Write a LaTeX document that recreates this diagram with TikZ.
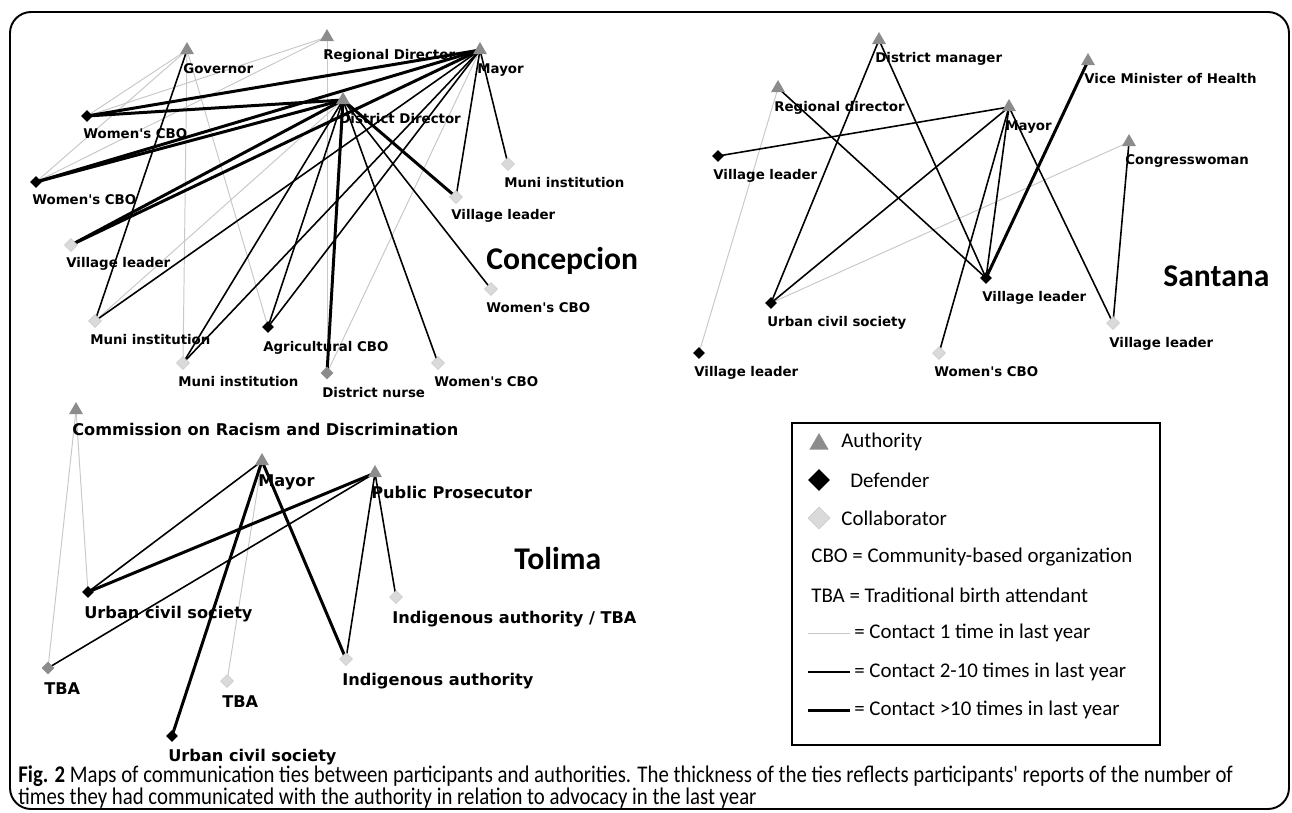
\documentclass[tikz,border=0pt]{standalone}
\usepackage{fontspec}
\setmainfont{Carlito}
\newfontfamily\nodefont{DejaVu Sans}
\newfontfamily\capfont[FakeStretch=0.87]{Carlito}
\usetikzlibrary{shapes.geometric, backgrounds}
\definecolor{authgray}{RGB}{140,140,140}
\definecolor{collgray}{RGB}{218,218,218}
\definecolor{tiegray}{RGB}{200,200,200}

\begin{document}
\begin{tikzpicture}[x=0.02cm, y=-0.02cm,
    auth/.style={regular polygon, regular polygon sides=3, fill=authgray, inner sep=0pt, minimum size=0.32cm},
    dfnd/.style={diamond, fill=black, inner sep=0pt, minimum size=0.24cm},
    coll/.style={diamond, fill=collgray, draw=tiegray, line width=0.3pt, inner sep=0pt, minimum size=0.26cm},
    midg/.style={diamond, fill=authgray, inner sep=0pt, minimum size=0.26cm},
    lbl/.style={anchor=north west, inner sep=0pt, font=\nodefont\bfseries\fontsize{7.6}{9}\selectfont},
    biglbl/.style={lbl, font=\nodefont\bfseries\fontsize{9.2}{11}\selectfont},
    region/.style={anchor=north west, inner sep=0pt, font=\bfseries\fontsize{18}{20}\selectfont},
    key/.style={anchor=west, inner sep=0pt, font=\fontsize{11.9}{14}\selectfont},
    one/.style={draw=tiegray, line width=0.55pt},
    few/.style={draw=black, line width=0.9pt},
    many/.style={draw=black, line width=1.7pt}]
    \useasboundingbox (0,0) rectangle (1292,812);
    \draw[line width=1.1pt, rounded corners=12pt] (10,12) rectangle (1289,809);

    % Concepcion
    \node[auth] (cgov) at (187,50) {};
    \node[lbl] (cgov-t) at (183,63) {Governor};
    \node[auth] (crd) at (327,37) {};
    \node[lbl] (crd-t) at (323,49) {Regional Director};
    \node[auth] (cmay) at (480,50) {};
    \node[lbl] (cmay-t) at (477,63) {Mayor};
    \node[auth] (cdd) at (343,100) {};
    \node[lbl] (cdd-t) at (339,113) {District Director};
    \node[dfnd] (cwc1) at (87,116) {};
    \node[lbl] (cwc1-t) at (83,128) {Women's CBO};
    \node[dfnd] (cwc2) at (36,182) {};
    \node[lbl] (cwc2-t) at (32,194) {Women's CBO};
    \node[coll] (cmu1) at (508,164) {};
    \node[lbl] (cmu1-t) at (504,177) {Muni institution};
    \node[coll] (cvl1) at (456,197) {};
    \node[lbl] (cvl1-t) at (451,209) {Village leader};
    \node[coll] (cvl2) at (71,245) {};
    \node[lbl] (cvl2-t) at (66,257) {Village leader};
    \node[coll] (cmu2) at (95,321) {};
    \node[lbl] (cmu2-t) at (90,334) {Muni institution};
    \node[coll] (cmu3) at (183,363) {};
    \node[lbl] (cmu3-t) at (178,376) {Muni institution};
    \node[dfnd] (cagr) at (268,327) {};
    \node[lbl] (cagr-t) at (263,341) {Agricultural CBO};
    \node[midg] (cnur) at (327,373) {};
    \node[lbl] (cnur-t) at (322,387) {District nurse};
    \node[coll] (cwc3) at (491,289) {};
    \node[lbl] (cwc3-t) at (486,302) {Women's CBO};
    \node[coll] (cwc4) at (438,363) {};
    \node[lbl] (cwc4-t) at (434,376) {Women's CBO};
    \node[region] (conc) at (486,247) {Concepcion};

    % Santana
    \node[auth] (sdm) at (879,40) {};
    \node[lbl] (sdm-t) at (875,52) {District manager};
    \node[auth] (srd) at (778,88) {};
    \node[lbl] (srd-t) at (774,101) {Regional director};
    \node[dfnd] (svl1) at (718,156) {};
    \node[lbl] (svl1-t) at (713,169) {Village leader};
    \node[auth] (smay) at (1009,107) {};
    \node[lbl] (smay-t) at (1005,120) {Mayor};
    \node[auth] (svm) at (1088,61) {};
    \node[lbl] (svm-t) at (1084,73) {Vice Minister of Health};
    \node[auth] (scw) at (1129,142) {};
    \node[lbl] (scw-t) at (1125,154) {Congresswoman};
    \node[dfnd] (svl2) at (986,278) {};
    \node[lbl] (svl2-t) at (982,291) {Village leader};
    \node[coll] (svl3) at (1113,323) {};
    \node[lbl] (svl3-t) at (1109,337) {Village leader};
    \node[dfnd] (sucs) at (771,303) {};
    \node[lbl] (sucs-t) at (767,316) {Urban civil society};
    \node[dfnd] (svl4) at (699,353) {};
    \node[lbl] (svl4-t) at (694,366) {Village leader};
    \node[coll] (swc) at (939,353) {};
    \node[lbl] (swc-t) at (934,366) {Women's CBO};
    \node[region] (sant) at (1163,265) {Santana};

    % Tolima
    \node[auth] (tcom) at (76,410) {};
    \node[biglbl] (tcom-t) at (72,423) {Commission on Racism and Discrimination};
    \node[auth] (tmay) at (262,461) {};
    \node[biglbl] (tmay-t) at (258,474) {Mayor};
    \node[auth] (tpp) at (375,473) {};
    \node[biglbl] (tpp-t) at (371,486) {Public Prosecutor};
    \node[dfnd] (tucs) at (88,592) {};
    \node[biglbl] (tucs-t) at (84,606) {Urban civil society};
    \node[midg] (ttba) at (48,668) {};
    \node[biglbl] (ttba-t) at (44,682) {TBA};
    \node[coll] (ttb2) at (227,681) {};
    \node[biglbl] (ttb2-t) at (222,695) {TBA};
    \node[dfnd] (tuc2) at (172,736) {};
    \node[biglbl] (tuc2-t) at (168,749) {Urban civil society};
    \node[coll] (tind) at (346,659) {};
    \node[biglbl] (tind-t) at (342,673) {Indigenous authority};
    \node[coll] (tit) at (396,597) {};
    \node[biglbl] (tit-t) at (392,611) {Indigenous authority / TBA};
    \node[region] (toli) at (514,547) {Tolima};

    \begin{scope}[on background layer]
        \draw[one] (cgov.center)--(cwc1.center);
        \draw[one] (cgov.center)--(cwc2.center);
        \draw[one] (cgov.center)--(cagr.center);
        \draw[one] (cgov.center)--(cmu3.center);
        \draw[one] (crd.center)--(cwc1.center);
        \draw[one] (crd.center)--(cwc2.center);
        \draw[one] (crd.center)--(cnur.center);
        \draw[one] (cmay.center)--(cnur.center);
        \draw[one] (cdd.center)--(cmu2.center);
        \draw[few] (cgov.center)--(cmu2.center);
        \draw[few] (cmay.center)--(cmu2.center);
        \draw[few] (cmay.center)--(cmu3.center);
        \draw[few] (cmay.center)--(cagr.center);
        \draw[few] (cmay.center)--(cvl1.center);
        \draw[few] (cmay.center)--(cmu1.center);
        \draw[few] (cdd.center)--(cmu3.center);
        \draw[few] (cdd.center)--(cagr.center);
        \draw[few] (cdd.center)--(cwc4.center);
        \draw[few] (cdd.center)--(cwc3.center);
        \draw[many] (cmay.center)--(cwc1.center);
        \draw[many] (cdd.center)--(cwc1.center);
        \draw[many] (cmay.center)--(cwc2.center);
        \draw[many] (cdd.center)--(cwc2.center);
        \draw[many] (cmay.center)--(cvl2.center);
        \draw[many] (cdd.center)--(cvl2.center);
        \draw[many] (cdd.center)--(cnur.center);
        \draw[many] (cdd.center)--(cvl1.center);

        \draw[one] (srd.center)--(svl4.center);
        \draw[one] (scw.center)--(sucs.center);
        \draw[few] (srd.center)--(svl2.center);
        \draw[few] (sdm.center)--(sucs.center);
        \draw[few] (sdm.center)--(svl2.center);
        \draw[few] (svl1.center)--(smay.center);
        \draw[few] (smay.center)--(sucs.center);
        \draw[few] (smay.center)--(svl2.center);
        \draw[few] (smay.center)--(swc.center);
        \draw[few] (smay.center)--(svl3.center);
        \draw[few] (scw.center)--(svl3.center);
        \draw[many] (svm.center)--(svl2.center);

        \draw[one] (tcom.center)--(tucs.center);
        \draw[one] (tcom.center)--(ttba.center);
        \draw[one] (tmay.center)--(ttb2.center);
        \draw[few] (tmay.center)--(tucs.center);
        \draw[few] (tpp.center)--(ttba.center);
        \draw[few] (tpp.center)--(tind.center);
        \draw[few] (tpp.center)--(tit.center);
        \draw[many] (tpp.center)--(tucs.center);
        \draw[many] (tmay.center)--(tuc2.center);
        \draw[many] (tmay.center)--(tind.center);
    \end{scope}

    % legend
    \draw[line width=0.6pt] (792,423) rectangle (1160,745);
    \node[auth, minimum size=0.44cm] (kauth) at (819,444) {};
    \node[key] (kauth-t) at (841,442) {Authority};
    \node[dfnd, minimum size=0.44cm] (kdef) at (819,480) {};
    \node[key] (kdef-t) at (850,480) {Defender};
    \node[coll, minimum size=0.44cm] (kcol) at (819,518) {};
    \node[key] (kcol-t) at (841,518) {Collaborator};
    \node[key] (kcbo) at (811,557) {CBO = Community-based organization};
    \node[key] (ktba) at (811,595) {TBA = Traditional birth attendant};
    \coordinate (k1) at (808,633);
    \node[key] (k1-t) at (854,633) {= Contact 1 time in last year};
    \coordinate (k2) at (808,672);
    \node[key] (k2-t) at (854,672) {= Contact 2-10 times in last year};
    \coordinate (k3) at (808,710);
    \node[key] (k3-t) at (854,710) {= Contact >10 times in last year};
    \draw[one] (k1) -- ([xshift=-2pt]k1-t.west);
    \draw[few] (k2) -- ([xshift=-2pt]k2-t.west);
    \draw[many] (k3) -- ([xshift=-2pt]k3-t.west);

    % caption
    \node[anchor=base west, inner sep=0pt, font=\capfont\fontsize{13.6}{16}\selectfont] (cap1) at (18,782) {\textbf{Fig. 2} Maps of communication ties between participants and authorities. The thickness of the ties reflects participants' reports of the number of};
    \node[anchor=base west, inner sep=0pt, font=\capfont\fontsize{13.6}{16}\selectfont] (cap2) at (18,804) {times they had communicated with the authority in relation to advocacy in the last year};
\end{tikzpicture}
\end{document}
